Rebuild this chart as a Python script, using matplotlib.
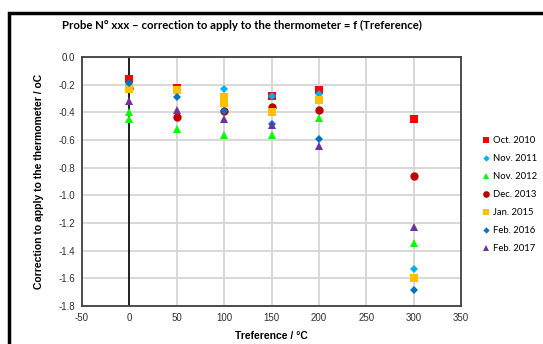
import numpy as np
import matplotlib.pyplot as plt
from matplotlib.patches import Rectangle

plt.rcParams['axes.unicode_minus'] = False

# measurement dates and readings (x = reference temperature in °C)
labels = ['Oct. 2010', 'Nov. 2011', 'Nov. 2012', 'Dec. 2013', 'Jan. 2015', 'Feb. 2016', 'Feb. 2017']

x_oct10 = [0, 50, 150, 200, 300]
y_oct10 = [-0.16, -0.22, -0.28, -0.24, -0.45]

x_nov11 = [0, 50, 100, 150, 200, 300]
y_nov11 = [-0.20, -0.25, -0.23, -0.28, -0.27, -1.53]

x_nov12 = [0, 0, 50, 100, 150, 200, 300]
y_nov12 = [-0.40, -0.45, -0.52, -0.56, -0.56, -0.44, -1.34]

x_dec13 = [0, 50, 100, 150, 200, 300]
y_dec13 = [-0.22, -0.43, -0.39, -0.36, -0.38, -0.86]

x_jan15 = [0, 50, 100, 100, 150, 200, 300]
y_jan15 = [-0.23, -0.24, -0.29, -0.33, -0.40, -0.31, -1.60]

x_feb16 = [0, 50, 100, 150, 200, 300]
y_feb16 = [-0.19, -0.29, -0.39, -0.48, -0.59, -1.68]

x_feb17 = [0, 50, 100, 150, 200, 300]
y_feb17 = [-0.32, -0.38, -0.45, -0.49, -0.64, -1.23]

xs = [x_oct10, x_nov11, x_nov12, x_dec13, x_jan15, x_feb16, x_feb17]
ys = [y_oct10, y_nov11, y_nov12, y_dec13, y_jan15, y_feb16, y_feb17]
colors = ['#FF0000', '#00B0F0', '#00FF00', '#C00000', '#FFC000', '#0070C0', '#7030A0']
markers = ['s', 'D', '^', 'o', 's', 'D', '^']
msizes = [6, 4, 5.5, 6, 6, 4, 5.5]

fig = plt.figure(figsize=(5.43, 3.44), dpi=100)
ax = fig.add_axes([0.151, 0.110, 0.698, 0.724])

for x, y, c, m, s, lab in zip(xs, ys, colors, markers, msizes, labels):
    ax.plot(x, y, linestyle='none', marker=m, color=c, markersize=s,
            markeredgewidth=0, label=lab, zorder=3)

ax.set_xlim(-50, 350)
ax.set_ylim(-1.8, 0.0)
ax.set_xticks(np.arange(-50, 351, 50))
ax.set_yticks(np.round(np.arange(-1.8, 0.01, 0.2), 1))
ax.yaxis.set_major_formatter(plt.FuncFormatter(lambda v, p: '%.1f' % (v + 0.0)))
ax.grid(True, color='#d6d6d6', linewidth=1.3)
ax.set_axisbelow(True)
ax.axvline(0, color='black', linewidth=1.2, zorder=2)
for sp in ax.spines.values():
    sp.set_color('#404040')
    sp.set_linewidth(1.3)
ax.tick_params(length=0, labelsize=7, labelcolor='#303030', pad=5,
               labelfontfamily='Liberation Sans')

ax.set_xlabel('Treference / °C', fontsize=7.5, fontweight='bold',
              family='Liberation Sans', labelpad=6)
ax.set_ylabel('Correction to apply to the thermometer / oC', fontsize=7.5,
              fontweight='bold', family='Liberation Sans', labelpad=10)

fig.text(0.445, 0.925, 'Probe N° xxx – correction to apply to the thermometer = f (Treference)',
         ha='center', va='center', fontsize=8.2, fontweight='bold', family='Lato')

fig.legend(loc='upper left', bbox_to_anchor=(0.875, 0.62), frameon=False,
           prop={'family': 'Lato', 'size': 6.8}, handletextpad=0.25,
           labelspacing=0.95, handlelength=1.0, markerscale=0.8,
           borderaxespad=0.2)

# thick frame on left and top
fig.patches.append(Rectangle((0.016, -0.05), 1.1, 1.013, transform=fig.transFigure,
                             fill=False, edgecolor='black', linewidth=2.5))

fig.savefig('out.png', dpi=100)
